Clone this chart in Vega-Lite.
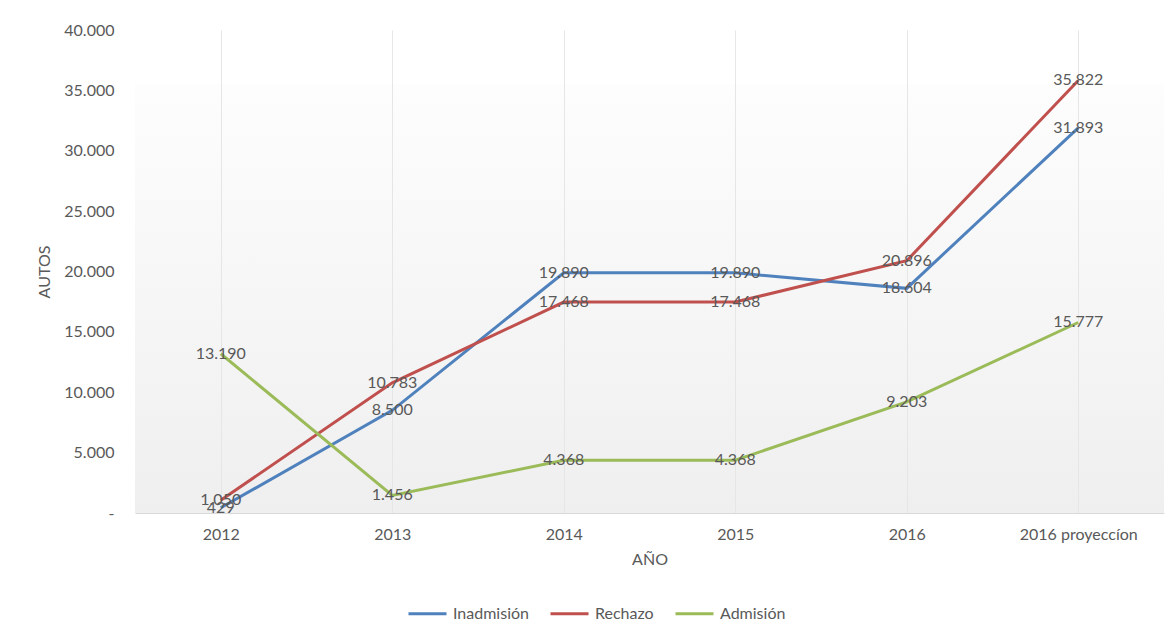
{
  "$schema": "https://vega.github.io/schema/vega-lite/v6.json",
  "autosize": {"type": "none"},
  "width": 1029,
  "height": 483,
  "padding": {"left": 135, "top": 30, "right": 10, "bottom": 124},
  "background": "white",
  "config": {
    "font": "Lato",
    "locale": {"number": {"decimal": ",", "thousands": ".", "grouping": [3], "currency": ["", " €"]}},
    "view": {
      "stroke": null,
      "fill": {
        "gradient": "linear",
        "x1": 0, "y1": 0, "x2": 0, "y2": 1,
        "stops": [
          {"offset": 0, "color": "#ffffff"},
          {"offset": 0.11, "color": "#ffffff"},
          {"offset": 0.112, "color": "#fdfdfd"},
          {"offset": 1, "color": "#efefef"}
        ]
      }
    }
  },
  "data": {
    "values": [
      {"anio": "2012", "serie": "Inadmisión", "autos": 429},
      {"anio": "2013", "serie": "Inadmisión", "autos": 8500},
      {"anio": "2014", "serie": "Inadmisión", "autos": 19890},
      {"anio": "2015", "serie": "Inadmisión", "autos": 19890},
      {"anio": "2016", "serie": "Inadmisión", "autos": 18604},
      {"anio": "2016 proyeccíon", "serie": "Inadmisión", "autos": 31893},
      {"anio": "2012", "serie": "Rechazo", "autos": 1050},
      {"anio": "2013", "serie": "Rechazo", "autos": 10783},
      {"anio": "2014", "serie": "Rechazo", "autos": 17468},
      {"anio": "2015", "serie": "Rechazo", "autos": 17468},
      {"anio": "2016", "serie": "Rechazo", "autos": 20896},
      {"anio": "2016 proyeccíon", "serie": "Rechazo", "autos": 35822},
      {"anio": "2012", "serie": "Admisión", "autos": 13190},
      {"anio": "2013", "serie": "Admisión", "autos": 1456},
      {"anio": "2014", "serie": "Admisión", "autos": 4368},
      {"anio": "2015", "serie": "Admisión", "autos": 4368},
      {"anio": "2016", "serie": "Admisión", "autos": 9203},
      {"anio": "2016 proyeccíon", "serie": "Admisión", "autos": 15777}
    ]
  },
  "encoding": {
    "x": {
      "field": "anio",
      "type": "ordinal",
      "sort": null,
      "title": "AÑO",
      "axis": {
        "labelAngle": 0,
        "labelFontSize": 16,
        "labelColor": "#595959",
        "labelPadding": 13,
        "titleFontSize": 16,
        "titleFontWeight": "normal",
        "titleColor": "#595959",
        "titlePadding": 9,
        "domainColor": "#d9d9d9",
        "domainWidth": 1,
        "ticks": false,
        "grid": true,
        "gridColor": "#e6e6e6"
      }
    },
    "y": {
      "field": "autos",
      "type": "quantitative",
      "title": "AUTOS",
      "scale": {"domain": [0, 40000], "nice": false},
      "axis": {
        "values": [0, 5000, 10000, 15000, 20000, 25000, 30000, 35000, 40000],
        "format": ",d",
        "labelExpr": "datum.value == 0 ? '-' : datum.label",
        "labelFontSize": 16,
        "labelColor": "#595959",
        "labelPadding": 21,
        "titleFontSize": 16,
        "titleFontWeight": "normal",
        "titleColor": "#595959",
        "titlePadding": 11,
        "domain": false,
        "ticks": false,
        "grid": false
      }
    }
  },
  "layer": [
    {
      "mark": {"type": "line", "strokeWidth": 3},
      "encoding": {
        "color": {
          "field": "serie",
          "type": "nominal",
          "sort": ["Inadmisión", "Rechazo", "Admisión"],
          "scale": {"domain": ["Inadmisión", "Rechazo", "Admisión"], "range": ["#4f81bd", "#c0504d", "#9bbb59"]},
          "legend": {
            "title": null,
            "orient": "none",
            "direction": "horizontal",
            "legendX": 272,
            "legendY": 563,
            "symbolType": "stroke",
            "symbolSize": 1444,
            "symbolStrokeWidth": 3,
            "labelFontSize": 16,
            "labelColor": "#595959",
            "labelOffset": 5,
            "columnPadding": 15
          }
        }
      }
    },
    {
      "mark": {"type": "text", "fontSize": 16, "color": "#595959", "align": "center", "baseline": "middle"},
      "encoding": {
        "text": {"field": "autos", "type": "quantitative", "format": ",d"}
      }
    }
  ]
}
